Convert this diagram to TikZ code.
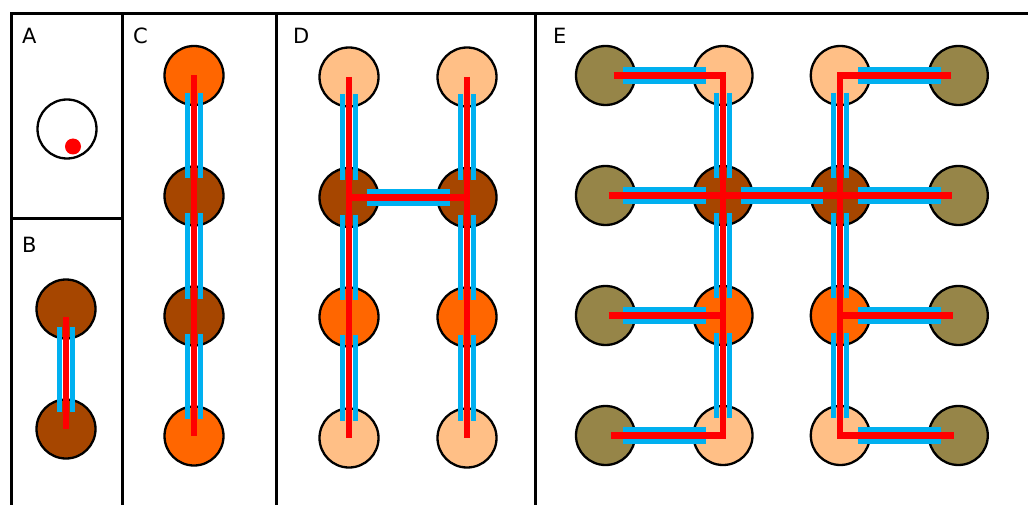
\documentclass[tikz,border=0pt]{standalone}
\usepackage{fontspec}
\setsansfont{DejaVu Sans}
\usetikzlibrary{calc}
\definecolor{brn}{RGB}{166,70,0}
\definecolor{org}{RGB}{255,102,0}
\definecolor{pch}{RGB}{255,191,134}
\definecolor{olv}{RGB}{150,133,72}
\definecolor{cbar}{RGB}{0,176,240}
\definecolor{rline}{RGB}{255,0,0}
\tikzset{
 frame/.style={line width=3pt, black},
 ball/.style={circle, draw=black, line width=2.3pt, minimum size=59pt, inner sep=0pt},
 cyanbar/.style={cbar, line width=4.8pt},
 redline/.style={rline, line width=6.2pt, line join=miter},
 lbl/.style={font=\sffamily\fontsize{21}{21}\selectfont, anchor=base west, inner sep=0pt}
}
\newcommand\linkV[2]{%
 \draw[cyanbar] ($(#1)!17.5pt!(#2)+(-6.5pt,0)$) -- ($(#2)!17.5pt!(#1)+(-6.5pt,0)$);
 \draw[cyanbar] ($(#1)!17.5pt!(#2)+(6.5pt,0)$) -- ($(#2)!17.5pt!(#1)+(6.5pt,0)$);}
\newcommand\linkH[2]{%
 \draw[cyanbar] ($(#1)!17.5pt!(#2)+(0,-6.3pt)$) -- ($(#2)!17.5pt!(#1)+(0,-6.3pt)$);
 \draw[cyanbar] ($(#1)!17.5pt!(#2)+(0,6.3pt)$) -- ($(#2)!17.5pt!(#1)+(0,6.3pt)$);}
\begin{document}
\begin{tikzpicture}[x=1pt,y=-1pt]
\useasboundingbox (0,0) rectangle (1028,505);
% frame
\draw[frame] (11,505) -- (11,14) -- (1028,14);
\draw[frame] (122,14) -- (122,505);
\draw[frame] (11,219) -- (122,219);
\draw[frame] (276,14) -- (276,505);
\draw[frame] (535,14) -- (535,505);
% labels
\node[lbl] (la) at (22,44) {A};
\node[lbl] (lb) at (22,252) {B};
\node[lbl] (lc) at (133,44) {C};
\node[lbl] (ld) at (293,44) {D};
\node[lbl] (le) at (553,44) {E};
% A
\node[ball, fill=white] (a) at (67,129) {};
\node[circle, fill=rline, minimum size=16pt, inner sep=0pt] (adot) at (73,146.5) {};
% B
\node[ball, fill=brn] (b1) at (66,309) {};
\node[ball, fill=brn] (b2) at (66,429) {};
% C
\node[ball, fill=org] (c1) at (194,75.5) {};
\node[ball, fill=brn] (c2) at (194,196) {};
\node[ball, fill=brn] (c3) at (194,316) {};
\node[ball, fill=org] (c4) at (194,436) {};
% D
\node[ball, fill=pch] (d11) at (349,77) {};
\node[ball, fill=brn] (d12) at (349,197.5) {};
\node[ball, fill=org] (d13) at (349,317) {};
\node[ball, fill=pch] (d14) at (349,438) {};
\node[ball, fill=pch] (d21) at (467,77) {};
\node[ball, fill=brn] (d22) at (467,197.5) {};
\node[ball, fill=org] (d23) at (467,317) {};
\node[ball, fill=pch] (d24) at (467,438) {};
% E
\node[ball, fill=olv] (e11) at (605.5,75.5) {};
\node[ball, fill=olv] (e12) at (605.5,195.5) {};
\node[ball, fill=olv] (e13) at (605.5,315.5) {};
\node[ball, fill=olv] (e14) at (605.5,435.5) {};
\node[ball, fill=pch] (e21) at (723,75.5) {};
\node[ball, fill=brn] (e22) at (723,195.5) {};
\node[ball, fill=org] (e23) at (723,315.5) {};
\node[ball, fill=pch] (e24) at (723,435.5) {};
\node[ball, fill=pch] (e31) at (840.3,75.5) {};
\node[ball, fill=brn] (e32) at (840.3,195.5) {};
\node[ball, fill=org] (e33) at (840.3,315.5) {};
\node[ball, fill=pch] (e34) at (840.3,435.5) {};
\node[ball, fill=olv] (e41) at (958.3,75.5) {};
\node[ball, fill=olv] (e42) at (958.3,195.5) {};
\node[ball, fill=olv] (e43) at (958.3,315.5) {};
\node[ball, fill=olv] (e44) at (958.3,435.5) {};
% cyan links
\linkV{b1}{b2}
\linkV{c1}{c2}\linkV{c2}{c3}\linkV{c3}{c4}
\linkV{d11}{d12}\linkV{d12}{d13}\linkV{d13}{d14}
\linkV{d21}{d22}\linkV{d22}{d23}\linkV{d23}{d24}
\linkH{d12}{d22}
\linkH{e11}{e21}\linkH{e31}{e41}
\linkH{e12}{e22}\linkH{e22}{e32}\linkH{e32}{e42}
\linkH{e13}{e23}\linkH{e33}{e43}
\linkH{e14}{e24}\linkH{e34}{e44}
\linkV{e21}{e22}\linkV{e22}{e23}\linkV{e23}{e24}
\linkV{e31}{e32}\linkV{e32}{e33}\linkV{e33}{e34}
% red paths
\draw[redline] ([yshift=-8pt]b1.center) -- (b2.center);
\draw[redline] (c1.center) -- (c4.center);
\draw[redline] (d11.center) -- (d14.center);
\draw[redline] (d21.center) -- (d24.center);
\draw[redline] (d12.center) -- (d22.center);
\draw[redline] ([xshift=8pt]e11.center) -- (e21.center) -- (e24.center) -- ([xshift=5pt]e14.center);
\draw[redline] ([xshift=3pt]e12.center) -- ([xshift=-6pt]e42.center);
\draw[redline] ([xshift=3pt]e13.center) -- (e23.center);
\draw[redline] ([xshift=-7pt]e41.center) -- (e31.center) -- (e34.center) -- ([xshift=-4pt]e44.center);
\draw[redline] (e33.center) -- ([xshift=-5pt]e43.center);
\end{tikzpicture}
\end{document}
